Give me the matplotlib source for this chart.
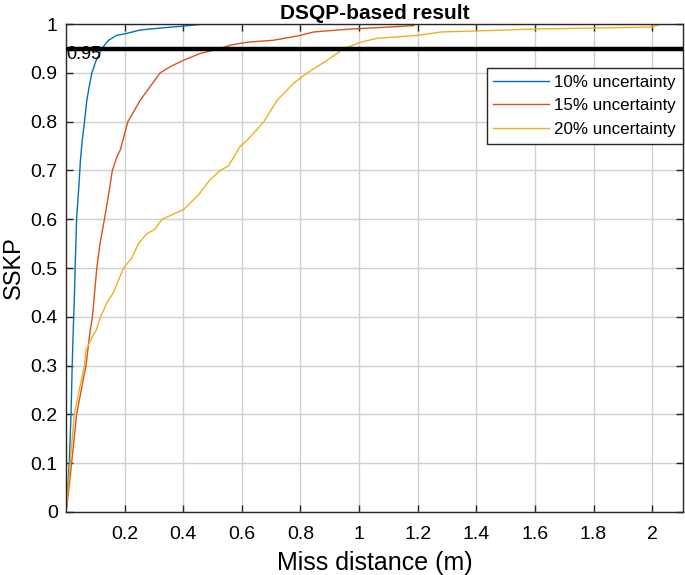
import matplotlib.pyplot as plt
import numpy as np

plt.rcParams['font.family'] = ['Liberation Sans', 'DejaVu Sans']

# courbes SSKP
x_10 = [0, 0.006, 0.011, 0.017, 0.021, 0.025, 0.028, 0.031, 0.036, 0.044, 0.049, 0.055,
        0.063, 0.071, 0.080, 0.088, 0.103, 0.122, 0.145, 0.173, 0.207, 0.253, 0.321, 0.40, 0.468]
y_10 = [0, 0.05, 0.10, 0.20, 0.30, 0.38, 0.43, 0.50, 0.60, 0.67, 0.72, 0.76,
        0.80, 0.844, 0.875, 0.90, 0.926, 0.95, 0.967, 0.977, 0.981, 0.988, 0.992, 0.996, 1.0]

x_15 = [0, 0.010, 0.019, 0.036, 0.052, 0.068, 0.082, 0.090, 0.105, 0.116, 0.131, 0.145,
        0.158, 0.175, 0.185, 0.194, 0.211, 0.253, 0.287, 0.321, 0.356, 0.401, 0.458, 0.526,
        0.561, 0.618, 0.708, 0.80, 0.845, 0.971, 1.10, 1.186, 1.19]
y_15 = [0, 0.05, 0.10, 0.20, 0.25, 0.30, 0.37, 0.40, 0.50, 0.55, 0.60, 0.65,
        0.70, 0.73, 0.742, 0.762, 0.80, 0.844, 0.872, 0.90, 0.913, 0.926, 0.94, 0.95,
        0.957, 0.963, 0.967, 0.977, 0.984, 0.99, 0.994, 0.997, 1.0]

x_20 = [0, 0.007, 0.014, 0.028, 0.045, 0.063, 0.068, 0.084, 0.103, 0.118, 0.140, 0.162,
        0.196, 0.224, 0.247, 0.275, 0.304, 0.327, 0.365, 0.401, 0.452, 0.49, 0.526, 0.555,
        0.595, 0.618, 0.675, 0.72, 0.777, 0.823, 0.891, 0.948, 1.005, 1.062, 1.2, 1.28,
        1.45, 1.6, 1.8, 2.0, 2.03, 2.1]
y_20 = [0, 0.05, 0.10, 0.20, 0.25, 0.30, 0.332, 0.352, 0.373, 0.40, 0.43, 0.45,
        0.50, 0.52, 0.55, 0.57, 0.58, 0.60, 0.61, 0.62, 0.65, 0.68, 0.70, 0.71,
        0.75, 0.762, 0.80, 0.844, 0.879, 0.90, 0.926, 0.95, 0.963, 0.971, 0.977, 0.984,
        0.987, 0.99, 0.992, 0.994, 1.0, 1.0]

labels = ['10% uncertainty', '15% uncertainty', '20% uncertainty']
couleurs = ['#0072BD', '#D95319', '#EDB120']
seuil = 0.95

fig = plt.figure(figsize=(6.85, 5.75), dpi=100)
ax = fig.add_axes([0.0964, 0.1096, 0.9006, 0.8484])

for xs, ys, lab, c in zip([x_10, x_15, x_20], [y_10, y_15, y_20], labels, couleurs):
    ax.plot(xs, ys, color=c, lw=1.0, label=lab)

ax.axhline(seuil, color='k', lw=3.2, zorder=3)
ax.text(0.0, seuil - 0.012, '0.95', fontsize=13, va='center', ha='left', zorder=4)

ax.set_xlim(0, 2.105)
ax.set_ylim(0, 1)
ax.set_xticks(np.arange(0.2, 2.01, 0.2))
ax.set_xticklabels(['0.2', '0.4', '0.6', '0.8', '1', '1.2', '1.4', '1.6', '1.8', '2'])
ax.set_yticks(np.arange(0, 1.01, 0.1))
ax.set_yticklabels(['0', '0.1', '0.2', '0.3', '0.4', '0.5', '0.6', '0.7', '0.8', '0.9', '1'])
ax.tick_params(direction='in', length=5, width=1, top=True, right=True,
               labelsize=14, color='#262626')
ax.tick_params(axis='x', pad=10)
ax.tick_params(axis='y', pad=6)
ax.grid(True, color='#d0d0d0', lw=1)
ax.set_axisbelow(True)
for s in ax.spines.values():
    s.set_color('#262626')
    s.set_linewidth(1)

ax.set_title('DSQP-based result', fontsize=15, fontweight='bold', pad=4)
ax.set_xlabel('Miss distance (m)', fontsize=18, labelpad=6)
ax.set_ylabel('SSKP', fontsize=17, labelpad=4)

leg = ax.legend(loc='upper right', bbox_to_anchor=(1.0, 0.91), borderaxespad=0,
                fontsize=12.2, fancybox=False, framealpha=1, edgecolor='#262626',
                handlelength=3.3, handletextpad=0.3, labelspacing=0.5)
leg.get_frame().set_linewidth(1)

plt.savefig('out.png', dpi=100)
